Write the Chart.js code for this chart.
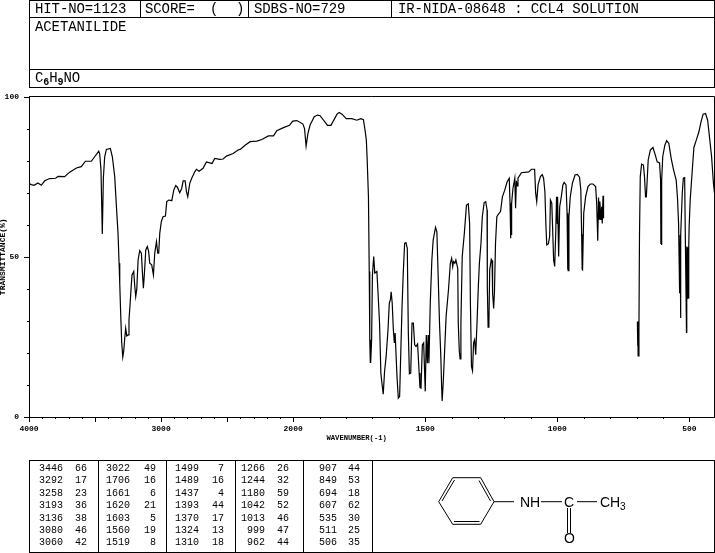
<!DOCTYPE html>
<html>
<head>
<meta charset="utf-8">
<title>Acetanilide IR spectrum</title>
<script src="https://cdn.jsdelivr.net/npm/chart.js"></script>
<style>
  html, body { margin: 0; padding: 0; background: #fff; overflow: hidden; }
  #page { position: relative; width: 715px; height: 553px; font-family: "Liberation Mono", monospace; color: #000; }
  #page canvas { position: absolute; left: 0; top: 0; }
  .line { position: absolute; background: #000; }
  .head { position: absolute; font-size: 14px; line-height: 14px; letter-spacing: -0.1px; white-space: pre; }
  .head sub { font-size: 10px; line-height: 0; vertical-align: -3px; font-weight: bold; }
  .peak { position: absolute; font-size: 10px; line-height: 12px; text-align: right; width: 30px; }
  svg { position: absolute; left: 0; top: 0; }
  svg text { font-family: "Liberation Sans", sans-serif; font-size: 14px; }
</style>
</head>
<body>
<div id="page">
  <canvas id="spectrum" width="715" height="450"></canvas>
  <div class="head" style="left:35px;top:2px">HIT-NO=1123</div>
  <div class="head" style="left:145px;top:2px">SCORE=</div>
  <div class="head" style="left:210px;top:2px">(</div>
  <div class="head" style="left:236px;top:2px">)</div>
  <div class="head" style="left:254px;top:2px">SDBS-NO=729</div>
  <div class="head" style="left:398px;top:2px">IR-NIDA-08648 : CCL4 SOLUTION</div>
  <div class="head" style="left:35px;top:20px">ACETANILIDE</div>
  <div class="head" style="left:35px;top:71px">C<sub>6</sub>H<sub>9</sub>NO</div>
  <svg width="715" height="553" stroke="#000" stroke-width="1" fill="none">
    <path d="M452.7 477.7H480.7L494 501.7L480.7 524.3H452.7L438.7 501.7Z"/>
    <path d="M479 480.5L490.5 501M454 521.5H479.5M442 501L454.5 480"/>
    <path d="M494 501.7H514M541 501.7H562M577 501.7H597M567.5 508V533M570.5 508V533"/>
    <g fill="#000" stroke="none">
      <text x="520" y="506.5">NH</text>
      <text x="564" y="506.5">C</text>
      <text x="600" y="506.5">CH</text>
      <text x="620" y="510" style="font-size:10px">3</text>
      <text x="564" y="543">O</text>
    </g>
  </svg>
</div>
<script>
// IR spectrum trace. null = break in the recording
const wavenumbers = [
  4000,3982,3962,3932,3907,3881,3843,3798,3780,3730,
  3692,3641,3604,3573,3528,3503,3472,3465,3455,3445,
  3437,3427,3414,3384,3369,3351,3338,3326,3318,3313,
  3306,3298,3290,3283,3275,3268,3260,3250,3243,3235,
  3227,3220,3207,3200,3192,3184,3174,3162,3149,3141,
  3134,3126,3116,3104,3094,3086,3071,3058,3048,3035,
  3025,3018,3010,2998,2985,2967,2957,2942,2919,2904,
  2889,2876,2859,2844,2833,2818,2808,2798,2783,2768,
  2745,2732,2712,2682,2657,2631,2614,2594,2556,2530,
  2505,2455,2417,2401,2364,2326,2275,2237,2187,2149,
  2124,2073,2028,2003,1986,1963,1957,1951,1944,1936,
  1920,1908,1898,1870,1857,1834,1826,1815,1799,1778,
  1759,1744,1734,1727,1723,1720,1715,1712,1710,1708,1707,1706,
  1703,1700,1695,1691,1683,1678,1673,1668,1664,1659,
  1654,1648,1641,1636,1632,1629,1625,1621,1617,1614,
  1607,1602,1597,1593,1588,1583,1578,1573,1568,1564,
  1560,1555,1550,1545,1540,1535,1529,1523,1520,1516,
  1511,1506,1500,1496,1492,1489,1486,1481,1475,1470,
  1461,1456,1451,1446,1441,1438,1436,1432,1427,1421,
  1412,1405,1400,1396,1393,1388,1384,1377,1375,1371,
  1368,1365,1360,1352,1344,1337,1332,1329,1325,1321,
  1317,1313,1309,1304,1299,1295,1289,1284,1277,1271,
  1266,1265,1262,1259,1256,1250,1247,1245,1241,1238,
  1234,1229,1223,1215,1208,1199,1190,1182,1179,1177,1176,1175,
  1173,1168,1161,1158,1155,1152,1149,1136,1108,1098,
  1086,1082,1078,1073,1064,1057,1052,1047,1043,1040,
  1034,1029,1026,1021,1018,1014,1010,1006,1003,1000,
  999,995,991,985,979,974,967,963,961,960,959,956,
  951,943,933,924,916,911,908,906,905,904,900,893,
  884,875,865,855,851,847,844,841,839,835,
  832,830,827,825,760,697,696,695,694,691,689,
  686,681,674,670,666,663,656,648,638,629,
  622,613,609,608,607,606,604,601,593,586,578,569,
  560,550,545,541,537,535,534,533,532,527,523,518,
  515,511,510,509,507,506,504,503,502,501,497,490,483,474,
  464,456,448,439,431,424,416,409,405
];
const transmittance = [
  72.8,72.5,72.3,73.0,72.3,73.7,74.4,74.5,75.1,75.0,
  76.4,77.7,78.1,79.8,79.8,81.2,82.9,82.2,77.1,57.1,
  74.5,81.2,83.5,83.8,81.2,75.0,65.6,57.3,48.0,41.7,
  32.4,23.1,18.7,20.5,24.6,27.7,25.3,25.6,30.3,35.0,
  40.2,44.3,45.4,41.2,37.6,39.9,49.0,51.9,51.1,44.9,
  40.2,44.9,52.1,53.2,51.6,48.0,47.5,44.3,51.1,54.7,
  51.1,51.1,57.3,61.0,62.5,62.7,67.2,67.7,67.5,70.8,
  72.2,71.7,70.0,71.3,73.7,73.7,70.3,68.7,72.9,74.5,
  76.5,77.3,76.7,77.6,79.6,79.3,79.1,80.7,80.4,80.5,
  81.4,82.2,83.3,83.5,84.8,85.9,86.1,86.6,87.7,87.7,
  89.3,90.3,91.0,92.3,92.5,91.4,90.0,84.5,88.5,91.1,
  93.7,94.2,94.0,91.0,91.0,94.5,95.0,94.5,93.1,93.1,
  92.6,93.1,92.8,89.0,86.4,80.7,68.7,45.4,24.1,17.0,24.1,17.0,
  24.1,44.3,50.1,44.9,45.4,37.6,29.3,13.7,10.6,7.1,
  14.2,18.9,27.2,35.5,36.6,39.1,35.5,27.7,23.1,26.2,
  12.7,5.9,6.4,18.9,34.0,45.4,54.2,54.4,52.6,26.2,
  13.5,13.7,29.3,29.3,22.5,22.0,22.8,13.7,9.2,9.0,
  22.5,23.1,8.0,25.6,16.8,25.6,16.8,35.5,49.0,55.2,
  59.2,57.8,43.8,29.3,18.9,9.6,5.0,10.6,19.9,31.4,
  39.7,48.0,49.5,46.9,48.5,48.0,49.0,46.4,29.3,20.5,
  18.1,29.3,50.1,57.3,66.1,66.5,60.4,35.5,15.8,14.4,
  23.1,24.1,19.4,29.3,40.7,48.0,54.2,62.5,66.9,67.2,
  64.6,40.7,28.0,29.3,45.9,49.2,48.8,38.6,33.9,39.1,
  54.2,62.5,63.3,64.1,68.7,70.8,73.4,74.5,66.7,55.8,66.7,57.0,
  66.7,71.3,74.5,65.1,73.7,72.1,74.5,76.2,76.5,77.3,
  77.3,69.8,67.2,72.4,75.0,75.6,74.5,70.3,59.4,53.7,
  54.0,56.3,67.7,66.7,59.4,49.0,47.0,57.3,68.7,60.4,
  68.7,50.1,65.6,68.7,72.4,73.2,72.4,63.6,46.0,63.0,45.7,62.5,
  68.7,72.9,75.5,75.7,74.8,70.8,57.3,46.0,57.0,45.9,63.6,68.7,
  71.9,72.7,72.7,71.9,66.7,55.0,68.5,61.7,67.2,61.5,
  65.6,60.4,69.0,62.0,null,29.8,22.2,29.8,19.1,27.7,56.3,
  75.0,78.9,78.6,75.0,68.7,68.7,80.2,83.3,84.1,81.7,
  79.6,79.3,73.9,54.0,73.9,53.7,73.9,81.2,84.8,86.2,85.4,80.7,
  77.1,73.9,68.2,60.4,38.6,56.8,38.6,30.9,56.8,69.8,74.5,74.7,
  53.2,26.4,53.2,37.0,53.0,37.0,53.0,37.0,53.0,59.4,67.7,76.0,84.1,86.4,
  89.0,92.1,94.5,94.7,92.6,87.4,81.2,72.9,69.8
];

// peak table, one array per column pair
const peakWavenumbers = [
  [3446,3292,3258,3193,3136,3080,3060],
  [3022,1706,1661,1620,1603,1560,1519],
  [1499,1489,1437,1393,1370,1324,1310],
  [1266,1244,1180,1042,1013,999,962],
  [907,849,694,607,535,511,506]
];
const peakPercents = [
  [66,17,23,36,38,46,42],
  [49,16,6,21,5,19,8],
  [7,16,4,44,17,13,18],
  [26,32,59,52,46,47,44],
  [44,53,18,62,30,25,35]
];

const xTickValues = [];
for (let wn = 4000; wn >= 500; wn -= 100) xTickValues.push(wn);
const xTickLabels = [4000, 3000, 2000, 1500, 1000, 500];
const xLongTicks = [4000, 3500, 3000, 2500, 2000, 1500, 1000, 500];
const yTickLabels = [0, 50, 100];

// the wavenumber axis changes scale at 2000: 4000-2000 is squeezed by half
function axisPos(wn) {
  return wn > 2000 ? (4000 - wn) / 2 : 1000 + (2000 - wn);
}

const tickFont = { family: 'Liberation Mono', size: 8, weight: 'bold' };

// ticks come in two lengths, chart.js only does one
const tickMarks = {
  id: 'tickMarks',
  afterDraw(chart) {
    const { ctx, chartArea, scales: { x, y } } = chart;
    ctx.save();
    ctx.strokeStyle = '#000';
    ctx.lineWidth = 1;
    ctx.beginPath();
    xTickValues.forEach(wn => {
      const px = Math.round(x.getPixelForValue(axisPos(wn))) + 0.5;
      ctx.moveTo(px, chartArea.bottom);
      ctx.lineTo(px, chartArea.bottom + (xLongTicks.includes(wn) ? 5 : 2));
    });
    for (let v = 0; v <= 100; v += 10) {
      const py = Math.round(y.getPixelForValue(v)) + 0.5;
      ctx.moveTo(chartArea.left, py);
      ctx.lineTo(chartArea.left - (yTickLabels.includes(v) ? 5 : 2), py);
    }
    ctx.moveTo(chartArea.left, chartArea.top);
    ctx.lineTo(chartArea.right, chartArea.top);
    ctx.lineTo(chartArea.right, chartArea.bottom);
    ctx.stroke();
    ctx.restore();
  }
};

new Chart(document.getElementById('spectrum').getContext('2d'), {
  type: 'line',
  plugins: [tickMarks],
  data: {
    datasets: [{
      data: wavenumbers.map((wn, i) => ({ x: axisPos(wn), y: transmittance[i] })),
      borderColor: '#000',
      borderWidth: 1.2,
      pointRadius: 0,
      tension: 0,
      spanGaps: false
    }]
  },
  options: {
    responsive: false,
    animation: false,
    layout: { padding: { top: 96.5, right: 0.5 } },
    plugins: { legend: { display: false }, title: { display: false }, tooltip: { enabled: false } },
    scales: {
      x: {
        type: 'linear',
        min: axisPos(4000),
        max: axisPos(405),
        afterFit(scale) { scale.height = 450 - 417; },
        afterBuildTicks(scale) { scale.ticks = xTickValues.map(wn => ({ value: axisPos(wn) })); },
        grid: { drawOnChartArea: false, drawTicks: false },
        border: { display: true, color: '#000', width: 1 },
        ticks: {
          autoSkip: false,
          maxRotation: 0,
          padding: 7,
          color: '#000',
          font: tickFont,
          callback: (value, i) => xTickLabels.includes(xTickValues[i]) ? String(xTickValues[i]) : ''
        },
        title: {
          display: true,
          // trailing spaces push the centred title left, it sits off-centre in the original
          text: 'WAVENUMBER(-1)       ',
          color: '#000',
          font: { family: 'Liberation Mono', size: 7.2, weight: 'bold' },
          padding: { top: 0, bottom: 7 }
        }
      },
      y: {
        min: 0,
        max: 100,
        afterFit(scale) { scale.width = 29; },
        grid: { drawOnChartArea: false, drawTicks: false },
        border: { display: true, color: '#000', width: 1 },
        ticks: {
          stepSize: 10,
          padding: 10,
          color: '#000',
          font: tickFont,
          callback: v => yTickLabels.includes(v) ? String(v) : ''
        },
        title: {
          display: true,
          text: 'TRANSMITTANCE(%)',
          color: '#000',
          font: { family: 'Liberation Mono', size: 8, weight: 'bold' },
          padding: { top: -2, bottom: 0 }
        }
      }
    }
  }
});

// header rules and peak table frame
const page = document.getElementById('page');
function rule(left, top, width, height) {
  const d = document.createElement('div');
  d.className = 'line';
  d.style.cssText = `left:${left}px;top:${top}px;width:${width}px;height:${height}px`;
  page.appendChild(d);
}
rule(29, 0, 686, 1);
rule(29, 17, 686, 1);
rule(29, 69, 686, 1);
rule(29, 87, 686, 1);
rule(29, 0, 1, 87);
rule(714, 0, 1, 87);
[140, 248, 391].forEach(x => rule(x, 0, 1, 17));
rule(29, 460, 686, 1);
rule(29, 552, 686, 1);
[29, 98, 166, 235, 303, 372, 714].forEach(x => rule(x, 460, 1, 92));

const wnRight = [63, 130, 199, 265, 337];
const pctRight = [87, 156, 224, 289, 360];
peakWavenumbers.forEach((col, c) => {
  col.forEach((wn, r) => {
    const top = 463 + r * 12.4;
    [[wn, wnRight[c]], [peakPercents[c][r], pctRight[c]]].forEach(([val, right]) => {
      const s = document.createElement('div');
      s.className = 'peak';
      s.textContent = val;
      s.style.left = (right - 30) + 'px';
      s.style.top = top + 'px';
      page.appendChild(s);
    });
  });
});
</script>
</body>
</html>
